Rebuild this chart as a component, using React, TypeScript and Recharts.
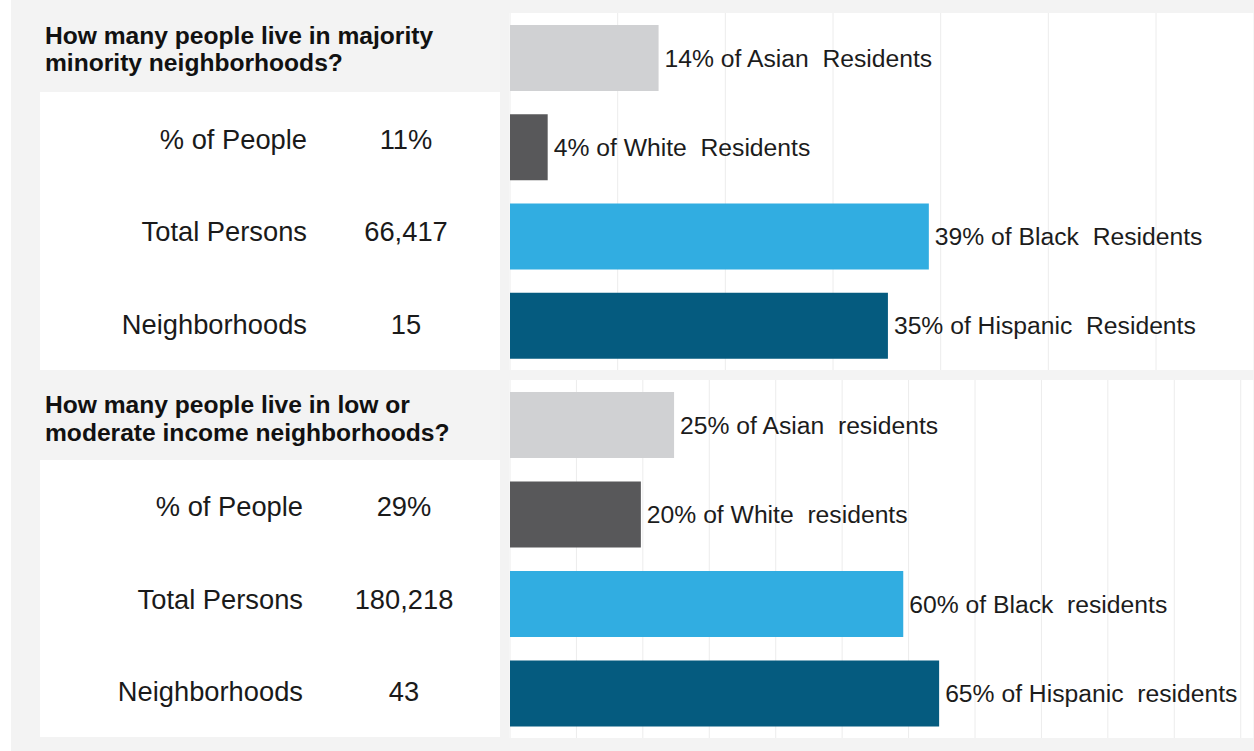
import React from 'react';
import { BarChart, Bar, XAxis, YAxis, CartesianGrid, Cell, LabelList } from 'recharts';

const categories = ['Asian', 'White', 'Black', 'Hispanic'];
const barColors = ['#d0d1d3', '#58585a', '#31ade1', '#055b7f'];

const minorityValues = [13.8, 3.5, 38.9, 35.1];
const minorityLabels = [
  '14% of Asian  Residents',
  '4% of White  Residents',
  '39% of Black  Residents',
  '35% of Hispanic  Residents',
];
const minorityTicks = [0, 10, 20, 30, 40, 50, 60];

const incomeValues = [24.7, 19.7, 59.2, 64.6];
const incomeLabels = [
  '25% of Asian  residents',
  '20% of White  residents',
  '60% of Black  residents',
  '65% of Hispanic  residents',
];
const incomeTicks = [0, 10, 20, 30, 40, 50, 60, 70, 80, 90, 100, 110];

const statNames = ['% of People', 'Total Persons', 'Neighborhoods'];
const minorityStats = ['11%', '66,417', '15'];
const incomeStats = ['29%', '180,218', '43'];

const titleMinority = ['How many people live in majority', 'minority neighborhoods?'];
const titleIncome = ['How many people live in low or', 'moderate income neighborhoods?'];

const FONT = '"Liberation Sans", Arial, Helvetica, sans-serif';
const BG = '#f3f3f3';

const renderLabel = (props: any) => {
  const { x, y, width, height, value } = props;
  return (
    <text
      x={Number(x) + Number(width) + 6}
      y={Number(y) + Number(height) / 2}
      dominantBaseline="central"
      fontSize={24.7}
      fill="#1c1c1c"
      fontFamily={FONT}
      xmlSpace="preserve"
      style={{ whiteSpace: 'pre' }}
    >
      {value}
    </text>
  );
};

function BarPanel({ values, labels, domainMax, ticks, top, height }: any) {
  const data = categories.map((c, i) => ({ name: c, value: values[i], label: labels[i] }));
  return (
    <div style={{ position: 'absolute', left: 509, top, width: 745, height, background: '#fff' }}>
      <BarChart
        width={745}
        height={height}
        data={data}
        layout="vertical"
        margin={{ top: 0, right: 0, bottom: 0, left: 1 }}
      >
        <CartesianGrid horizontal={false} stroke="#ececec" />
        <XAxis type="number" domain={[0, domainMax]} ticks={ticks} hide allowDataOverflow />
        <YAxis
          type="category"
          dataKey="name"
          width={0}
          tick={false}
          tickLine={false}
          axisLine={{ stroke: '#c4c4c4', strokeDasharray: '2 2' }}
        />
        <Bar dataKey="value" barSize={66} isAnimationActive={false}>
          {data.map((d, i) => (
            <Cell key={d.name} fill={barColors[i]} />
          ))}
          <LabelList dataKey="label" content={renderLabel} />
        </Bar>
      </BarChart>
    </div>
  );
}

function Title({ lines, top, lineHeight }: any) {
  return (
    <div
      style={{
        position: 'absolute',
        left: 45,
        top,
        fontFamily: FONT,
        fontWeight: 'bold',
        fontSize: 24.6,
        lineHeight: `${lineHeight}px`,
        color: '#111',
        whiteSpace: 'nowrap',
      }}
    >
      {lines.map((l: string) => (
        <div key={l}>{l}</div>
      ))}
    </div>
  );
}

function StatTable({ values, top, height, rowCenters, labelRight, valueCenter }: any) {
  return (
    <div style={{ position: 'absolute', left: 40, top, width: 460, height, background: '#fff' }}>
      {statNames.map((n, i) => (
        <React.Fragment key={n}>
          <div
            style={{
              position: 'absolute',
              right: 460 - (labelRight - 40),
              top: rowCenters[i] - top - 15,
              height: 30,
              lineHeight: '30px',
              fontFamily: FONT,
              fontSize: 27.3,
              color: '#1a1a1a',
              whiteSpace: 'nowrap',
              textAlign: 'right',
            }}
          >
            {n}
          </div>
          <div
            style={{
              position: 'absolute',
              left: valueCenter - 40 - 80,
              width: 160,
              top: rowCenters[i] - top - 15,
              height: 30,
              lineHeight: '30px',
              fontFamily: FONT,
              fontSize: 27.3,
              color: '#1a1a1a',
              textAlign: 'center',
            }}
          >
            {values[i]}
          </div>
        </React.Fragment>
      ))}
    </div>
  );
}

export default function App() {
  return (
    <div style={{ position: 'absolute', left: 0, top: 0, width: 1254, height: 751, background: '#fff', overflow: 'hidden' }}>
      <div style={{ position: 'absolute', left: 11, top: 0, width: 1243, height: 751, background: BG }} />
      <Title lines={titleMinority} top={22} lineHeight={27} />
      <StatTable
        values={minorityStats}
        top={92}
        height={278}
        rowCenters={[140, 232, 325]}
        labelRight={307}
        valueCenter={406}
      />
      <BarPanel values={minorityValues} labels={minorityLabels} domainMax={69.1} ticks={minorityTicks} top={13} height={357} />
      <Title lines={titleIncome} top={391} lineHeight={28} />
      <StatTable
        values={incomeStats}
        top={460}
        height={277}
        rowCenters={[507, 600, 692]}
        labelRight={303}
        valueCenter={404}
      />
      <BarPanel values={incomeValues} labels={incomeLabels} domainMax={112} ticks={incomeTicks} top={380} height={358} />
    </div>
  );
}
